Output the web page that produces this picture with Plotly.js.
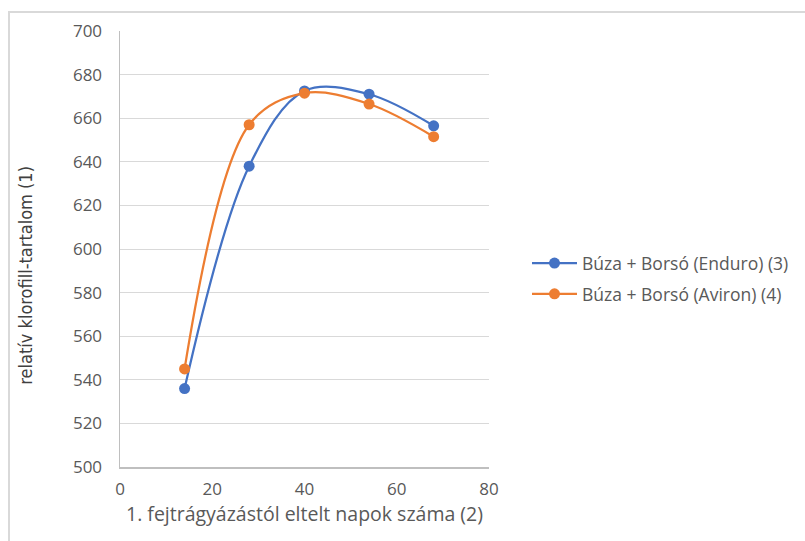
<!DOCTYPE html>
<html>
<head>
<meta charset="utf-8">
<script src="https://cdn.plot.ly/plotly-3.0.1.min.js"></script>
<style>
html,body{margin:0;padding:0;background:#fff;}
#wrap{position:relative;width:805px;height:541px;}
#chart{position:absolute;left:0;top:0;width:805px;height:541px;}
#frame{position:absolute;left:8px;top:11px;width:820px;height:560px;border-left:2px solid #d9d9d9;border-top:2px solid #d9d9d9;pointer-events:none;}
</style>
</head>
<body>
<div id="wrap"><div id="chart"></div><div id="frame"></div></div>
<script>
const days = [14, 28, 40, 54, 68];
const enduro = [536, 638, 672.5, 671, 656.5];
const aviron = [545, 657, 671.5, 666.5, 651.5];
const seriesNames = ["Búza + Borsó (Enduro) (3)", "Búza + Borsó (Aviron) (4)"];
const xTitle = "1. fejtrágyázástól eltelt napok száma (2)";
const yTitle = "relatív klorofill-tartalom (1)";

const font = "'Open Sans', 'DejaVu Sans', sans-serif";
const traces = [
  {x: days, y: enduro, name: seriesNames[0], type: 'scatter', mode: 'lines+markers', legendgroup: 'a',
   line: {color: '#4472C4', width: 2.25, shape: 'spline', smoothing: 1},
   marker: {color: '#4472C4', size: 11}},
  {x: days, y: aviron, name: seriesNames[1], type: 'scatter', mode: 'lines+markers', legendgroup: 'b',
   line: {color: '#ED7D31', width: 2.25, shape: 'spline', smoothing: 1},
   marker: {color: '#ED7D31', size: 11}}
];
const layout = {
  width: 805, height: 541,
  margin: {l: 120, r: 315, t: 31, b: 74},
  paper_bgcolor: '#fff', plot_bgcolor: '#fff',
  font: {family: font, size: 17, color: '#595959'},
  showlegend: true,
  legend: {x: 1.1, y: 0.432, xanchor: 'left', yanchor: 'middle', font: {size: 17.5, color: '#595959'},
           itemwidth: 45, traceorder: 'grouped', tracegroupgap: 5, bgcolor: 'rgba(0,0,0,0)'},
  xaxis: {range: [0, 80], dtick: 20, tick0: 0, showgrid: false, zeroline: false,
          showline: true, linecolor: '#bfbfbf', linewidth: 1.5,
          ticks: 'outside', ticklen: 6, tickcolor: 'rgba(0,0,0,0)',
          tickfont: {size: 17, color: '#595959'},
          title: {text: xTitle, font: {size: 19.5, color: '#595959'}, standoff: 7}},
  yaxis: {range: [500, 700], dtick: 20, tick0: 500, showgrid: true, gridcolor: '#d9d9d9', gridwidth: 1,
          zeroline: false, showline: true, linecolor: '#bfbfbf', linewidth: 1.5,
          ticks: 'outside', ticklen: 13, tickcolor: 'rgba(0,0,0,0)',
          tickfont: {size: 17, color: '#595959'}},
  annotations: [{text: yTitle, textangle: -90, xref: 'paper', yref: 'paper', x: -0.256, y: 0.44,
                 xanchor: 'center', yanchor: 'middle', showarrow: false,
                 font: {family: "'Liberation Sans Narrow', 'DejaVu Sans Condensed', sans-serif", size: 18, color: '#404040'}}]
};
Plotly.newPlot('chart', traces, layout, {displayModeBar: false, staticPlot: true});
</script>
</body>
</html>
